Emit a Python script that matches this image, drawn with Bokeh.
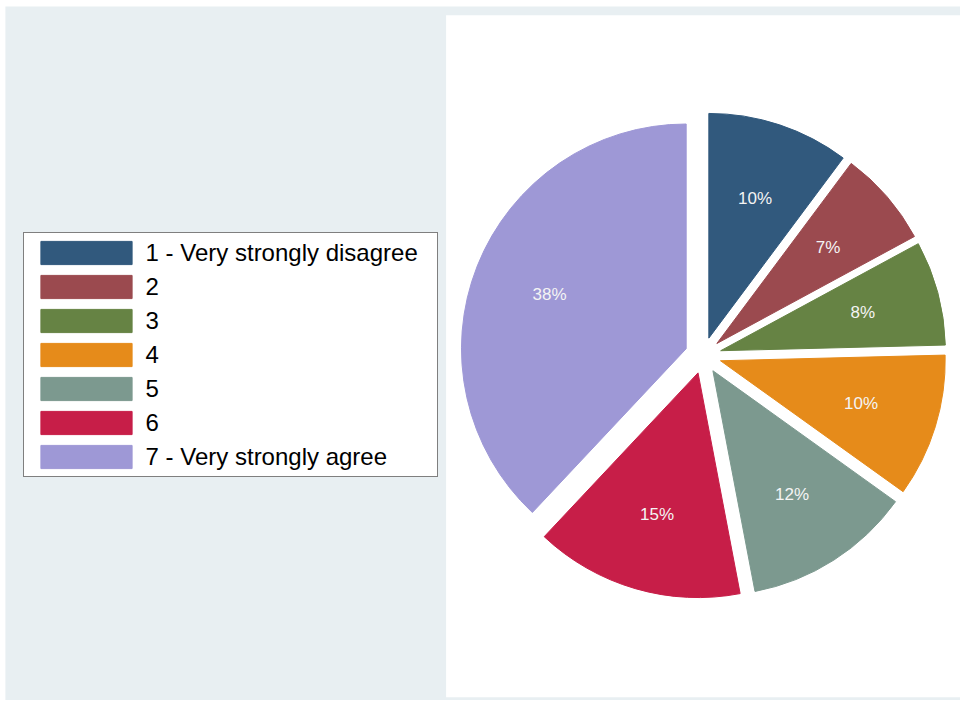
import math
from bokeh.plotting import figure
from bokeh.models import Range1d, Legend, LegendItem, ColumnDataSource, BoxAnnotation
from bokeh.core.properties import value
from bokeh.embed import file_html
from bokeh.resources import INLINE

# ---- data ----
categories = ["1 - Very strongly disagree", "2", "3", "4", "5", "6", "7 - Very strongly agree"]
shares = [10.2, 6.9, 7.5, 10.3, 12.1, 15.0, 38.0]
colors = ["#31597D", "#9B4A4F", "#668344", "#E68B1A", "#7C998F", "#C71E48", "#9E98D6"]

# ---- layout (pixel-based coordinate system, y up) ----
GREY = "#E8EFF2"
W, H = 960, 700
CX, CY = 702.6, 345.1
R = 224.7
EXPLODE = 18.2
LABEL_R = 147.0

p = figure(width=W, height=H, output_backend="svg", toolbar_location=None,
           x_range=Range1d(0, W), y_range=Range1d(0, H),
           x_axis_location=None, y_axis_location=None,
           min_border_left=0, min_border_right=0, min_border_top=0, min_border_bottom=0,
           background_fill_color="white", border_fill_color="white", outline_line_color=None)
p.grid.visible = False

# graph region (grey) and plot region (white)
p.add_layout(BoxAnnotation(left=4.9, right=W, bottom=0, top=H - 5.9,
                           fill_color=GREY, fill_alpha=1.0, line_color=None, level="underlay"))
p.add_layout(BoxAnnotation(left=445.6, right=W, bottom=3.2, top=H - 14.7,
                           fill_color="white", fill_alpha=1.0, line_color=None, level="underlay"))

total = float(sum(shares))
xs, ys, starts, ends, lx, ly, labels = [], [], [], [], [], [], []
cum = 0.0
for s in shares:
    a0 = math.pi / 2 - 2 * math.pi * cum / total          # clockwise from 12 o'clock
    cum += s
    a1 = math.pi / 2 - 2 * math.pi * cum / total
    mid = (a0 + a1) / 2
    x0 = CX + EXPLODE * math.cos(mid)
    y0 = CY + EXPLODE * math.sin(mid)
    xs.append(x0); ys.append(y0)
    starts.append(a1); ends.append(a0)
    lx.append(x0 + LABEL_R * math.cos(mid))
    ly.append(y0 + LABEL_R * math.sin(mid))
    labels.append("%d%%" % int(s + 0.5))

src = ColumnDataSource(dict(x=xs, y=ys, start=starts, end=ends, color=colors,
                            lx=lx, ly=ly, label=labels, cat=categories))

r = p.wedge(x="x", y="y", radius=R, start_angle="start", end_angle="end",
            fill_color="color", line_color="color", line_width=1, source=src)

p.text(x="lx", y="ly", text="label", source=src, text_align="center", text_baseline="middle",
       text_color="#F4F4F4", text_font=value("Liberation Sans"), text_font_size="17px")

items = [LegendItem(label=c, renderers=[r], index=i) for i, c in enumerate(categories)]
legend = Legend(items=items, location=(22.6, 223), orientation="vertical",
                glyph_width=114, glyph_height=29, label_height=24, spacing=5,
                padding=5, margin=0, label_standoff=3, label_width=286,
                label_text_font_size="24px", label_text_font="Liberation Sans",
                label_text_color="black",
                border_line_color="black", border_line_width=1,
                background_fill_color="white", background_fill_alpha=1.0)
p.add_layout(legend, "center")

open("out.html", "w").write(file_html(p, INLINE))
